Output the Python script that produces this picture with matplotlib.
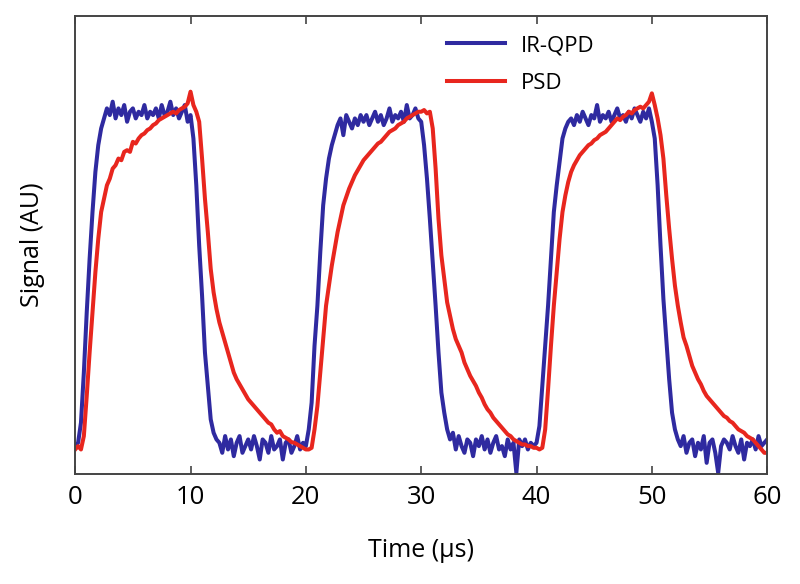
"""
IR-QPD vs PSD response to a square-wave drive.
"""
import numpy as np
import matplotlib
matplotlib.use('Agg')
import matplotlib.pyplot as plt

# --- Data (AU: 0 = low level, 1 = high level) ---

time_us = np.arange(0, 60.001, 0.25)

ir_qpd = [
    # 0 - 4.75
    0.00, 0.01, 0.07, 0.22, 0.40, 0.56, 0.70, 0.82, 0.90, 0.95, 0.98, 1.01, 0.99, 1.03, 0.98, 1.01, 0.99, 1.02, 0.97, 1.00,
    # 5 - 9.75
    1.01, 0.98, 1.00, 0.99, 1.02, 0.98, 1.00, 0.99, 1.01, 0.98, 1.02, 0.99, 1.00, 1.03, 0.99, 1.01, 0.98, 1.00, 1.02, 0.97,
    # 10 - 14.75
    0.99, 0.92, 0.78, 0.60, 0.45, 0.28, 0.18, 0.08, 0.04, 0.02, 0.01, -0.02, 0.03, -0.01, 0.02, -0.03, 0.01, 0.03, -0.02, 0.00,
    # 15 - 19.75
    0.02, -0.01, 0.03, 0.00, -0.04, 0.02, 0.01, -0.02, 0.03, -0.01, 0.00, 0.02, -0.04, 0.01, 0.02, -0.02, 0.00, 0.03, -0.01, 0.01,
    # 20 - 24.75
    0.00, 0.05, 0.13, 0.30, 0.42, 0.58, 0.72, 0.80, 0.86, 0.90, 0.93, 0.96, 0.98, 0.93, 0.99, 0.97, 0.95, 0.98, 0.96, 0.99,
    # 25 - 29.75
    0.97, 0.99, 0.96, 0.98, 1.00, 0.97, 0.99, 0.96, 0.98, 1.01, 0.97, 0.99, 0.98, 1.00, 0.97, 1.02, 0.98, 0.99, 1.01, 0.98,
    # 30 - 34.75
    0.97, 0.90, 0.80, 0.68, 0.55, 0.42, 0.28, 0.16, 0.10, 0.05, 0.02, 0.04, -0.01, 0.03, 0.00, -0.02, 0.02, 0.01, -0.03, 0.02,
    # 35 - 39.75
    0.00, 0.03, -0.01, 0.02, -0.02, 0.01, 0.03, -0.01, 0.00, -0.03, 0.02, -0.01, 0.01, -0.08, 0.02, 0.00, 0.02, -0.01, 0.01, 0.00,
    # 40 - 44.75
    0.01, 0.06, 0.18, 0.30, 0.42, 0.56, 0.70, 0.78, 0.85, 0.92, 0.95, 0.97, 0.98, 0.96, 0.99, 0.97, 1.00, 0.98, 0.96, 0.99,
    # 45 - 49.75
    0.98, 1.02, 0.97, 0.99, 0.98, 1.00, 0.97, 0.99, 1.01, 0.98, 0.99, 0.97, 1.00, 0.98, 1.01, 0.99, 0.97, 1.00, 0.98, 1.01,
    # 50 - 54.75
    0.97, 0.92, 0.78, 0.60, 0.44, 0.32, 0.20, 0.10, 0.05, 0.02, 0.00, 0.03, -0.02, 0.01, 0.02, -0.03, 0.01, -0.01, 0.03, -0.05,
    # 55 - 60
    0.01, 0.02, -0.02, -0.08, 0.00, 0.02, 0.01, -0.01, 0.03, 0.00, -0.02, 0.02, -0.04, 0.01, 0.00, 0.02, -0.01, 0.03, 0.00, 0.01,
    0.02,
]

psd = [
    # 0 - 4.75
    -0.01, 0.00, -0.01, 0.03, 0.15, 0.28, 0.40, 0.52, 0.62, 0.70, 0.74, 0.78, 0.80, 0.83, 0.84, 0.86, 0.855, 0.88, 0.885, 0.88,
    # 5 - 9.75
    0.91, 0.905, 0.92, 0.93, 0.935, 0.945, 0.95, 0.96, 0.965, 0.975, 0.98, 0.985, 0.99, 0.995, 1.00, 0.995, 1.005, 1.01, 1.015, 1.025,
    # 10 - 14.75
    1.06, 1.02, 1.00, 0.97, 0.86, 0.74, 0.64, 0.53, 0.46, 0.41, 0.37, 0.34, 0.31, 0.28, 0.25, 0.22, 0.20, 0.185, 0.17, 0.155,
    # 15 - 19.75
    0.14, 0.13, 0.12, 0.11, 0.10, 0.09, 0.08, 0.07, 0.065, 0.05, 0.04, 0.045, 0.03, 0.025, 0.02, 0.012, 0.01, 0.005, 0.00, -0.005,
    # 20 - 24.75
    -0.01, -0.01, -0.005, 0.05, 0.12, 0.22, 0.32, 0.42, 0.48, 0.54, 0.59, 0.64, 0.68, 0.72, 0.745, 0.77, 0.79, 0.81, 0.825, 0.84,
    # 25 - 29.75
    0.855, 0.865, 0.875, 0.885, 0.895, 0.905, 0.91, 0.92, 0.93, 0.94, 0.945, 0.95, 0.96, 0.965, 0.97, 0.98, 0.985, 0.99, 0.995, 1.00,
    # 30 - 34.75
    1.00, 1.005, 0.995, 1.00, 0.95, 0.83, 0.68, 0.57, 0.50, 0.43, 0.39, 0.35, 0.32, 0.30, 0.28, 0.25, 0.23, 0.21, 0.195, 0.18,
    # 35 - 39.75
    0.16, 0.145, 0.125, 0.11, 0.10, 0.085, 0.075, 0.065, 0.055, 0.045, 0.035, 0.03, 0.02, 0.015, 0.01, 0.005, 0.005, 0.00, 0.00, -0.005,
    # 40 - 44.75
    -0.005, -0.01, -0.005, 0.05, 0.17, 0.30, 0.42, 0.52, 0.62, 0.70, 0.75, 0.79, 0.82, 0.84, 0.855, 0.87, 0.88, 0.89, 0.90, 0.905,
    # 45 - 49.75
    0.915, 0.92, 0.93, 0.935, 0.94, 0.95, 0.96, 0.97, 0.98, 0.975, 0.985, 0.99, 1.00, 0.995, 1.005, 1.01, 1.015, 1.01, 1.02, 1.03,
    # 50 - 54.75
    1.055, 1.02, 0.98, 0.93, 0.86, 0.75, 0.65, 0.56, 0.48, 0.42, 0.37, 0.325, 0.30, 0.27, 0.24, 0.22, 0.20, 0.185, 0.165, 0.15,
    # 55 - 60
    0.14, 0.13, 0.12, 0.11, 0.10, 0.09, 0.085, 0.075, 0.07, 0.06, 0.05, 0.045, 0.04, 0.03, 0.025, 0.02, 0.01, 0.00, -0.01, -0.02,
    -0.02,
]

x_ticks = [0, 10, 20, 30, 40, 50, 60]

# --- Plot ---

plt.rcParams['font.family'] = ['Open Sans', 'DejaVu Sans']

fig = plt.figure(figsize=(8, 5.84), dpi=100)
ax = fig.add_axes([0.094, 0.188, 0.865, 0.785])

ax.plot(time_us, ir_qpd, color='#2f2aa0', linewidth=2.9, label='IR-QPD')
ax.plot(time_us, psd, color='#e8261e', linewidth=2.9, label='PSD')

ax.set_xlim(0, 60)
ax.set_ylim(-0.084, 1.287)
ax.set_xticks(x_ticks)
ax.set_yticks([])
ax.tick_params(axis='x', direction='in', top=True, length=6, width=1.2,
               labelsize=18.5, pad=8, color='#444444')
for s in ax.spines.values():
    s.set_linewidth(1.4)
    s.set_color('#444444')

ax.set_xlabel('Time (µs)', fontsize=18, labelpad=20)
ax.set_ylabel('Signal (AU)', fontsize=18, labelpad=22)

ax.legend(loc='upper left', bbox_to_anchor=(0.537, 0.958), frameon=False,
          fontsize=16, handlelength=2.6, handletextpad=0.75, labelspacing=0.75,
          borderpad=0, borderaxespad=0)

fig.savefig('out.png', dpi=100)
plt.close(fig)
